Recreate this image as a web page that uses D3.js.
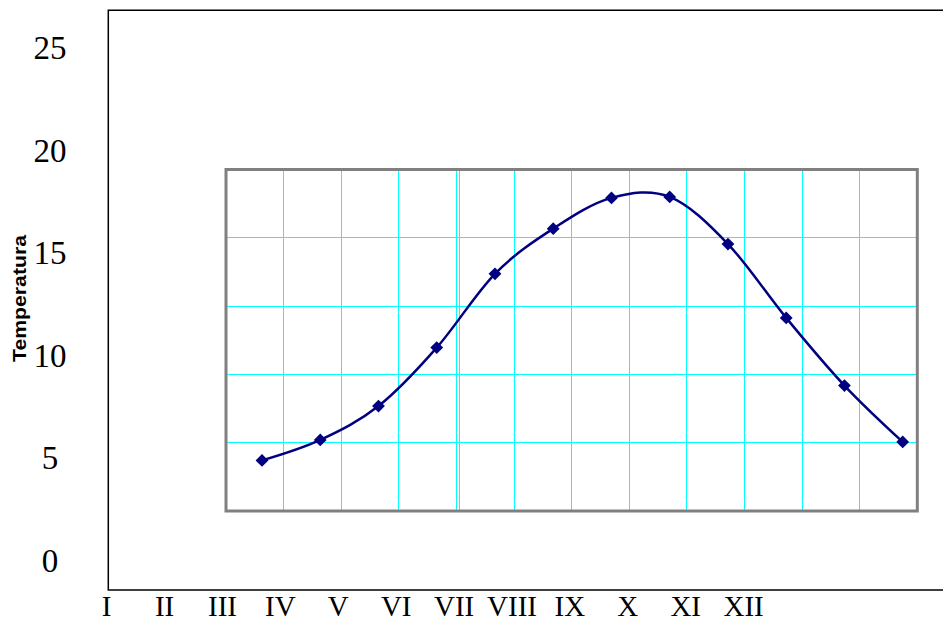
<!DOCTYPE html>
<html>
<head>
<meta charset="utf-8">
<script src="https://cdn.jsdelivr.net/npm/d3@7"></script>
<style>
  html, body { margin: 0; padding: 0; background: #fff; }
  svg { display: block; }
</style>
</head>
<body>
<svg id="chart" width="943" height="622"></svg>
<script>
// ---- data ----
const months = ["I", "II", "III", "IV", "V", "VI", "VII", "VIII", "IX", "X", "XI", "XII"];
const temps = [4.9, 5.9, 7.55, 10.4, 14.0, 16.2, 17.7, 17.75, 15.45, 11.85, 8.55, 5.8];
const yTickValues = [0, 5, 10, 15, 20, 25];
const gridRows = [0, 1, 2, 3, 4, 5];
const yTitle = "Temperatura";

// ---- scales ----
const W = 943, H = 622;
const svg = d3.select("#chart");
const crisp = v => Math.round(v - 0.5) + 0.5;

// outer axes (labels)
const xLabel = d3.scalePoint().domain(months).range([106.7, 743.6]);
const yAxis = d3.scaleLinear().domain([0, 25]).range([560.9, 48.2]);

// inner plot (grid box + series)
const xGrid = d3.scaleBand().domain(months).range([226, 917.3]);
const yGrid = d3.scaleLinear().domain([0, 5]).range([511, 169.5]);
const xData = d3.scalePoint().domain(months).range([262, 902.7]);

// ---- outer frame ----
const fx0 = 108.3, fy0 = 10.3, fy1 = 590;
svg.append("path")
  .attr("d", `M${W + 5},${fy0}H${fx0}V${fy1}H${W + 5}`)
  .attr("fill", "none").attr("stroke", "#000").attr("stroke-width", 1.5);

// ---- y tick labels ----
svg.append("g").selectAll("text").data(yTickValues).join("text")
  .attr("x", 50)
  .attr("y", d => yAxis(d) + 10.9)
  .attr("text-anchor", "middle")
  .attr("font-family", "'Liberation Serif', 'Times New Roman', serif")
  .attr("font-size", 33)
  .attr("fill", "#000")
  .text(d => d);

// ---- x tick labels ----
svg.append("g").selectAll("text").data(months).join("text")
  .attr("x", d => xLabel(d))
  .attr("y", 615.5)
  .attr("text-anchor", "middle")
  .attr("font-family", "'Liberation Serif', 'Times New Roman', serif")
  .attr("font-size", 29)
  .attr("fill", "#000")
  .text(d => d);

// ---- y title ----
svg.append("text")
  .attr("transform", "translate(26.2,298.5) rotate(-90)")
  .attr("text-anchor", "middle")
  .attr("font-family", "'Liberation Sans', Arial, sans-serif")
  .attr("font-weight", "bold")
  .attr("font-size", 18)
  .attr("textLength", 127)
  .attr("lengthAdjust", "spacingAndGlyphs")
  .attr("fill", "#000")
  .text(yTitle);

// ---- inner grid ----
const [gx0, gx1] = xGrid.range();
const gyTop = yGrid(5), gyBot = yGrid(0);
const grid = svg.append("g").attr("stroke", "#00FFFF").attr("stroke-width", 1)
  .attr("shape-rendering", "crispEdges");
grid.selectAll("line.v").data(months.slice(1)).join("line")
  .attr("class", "v")
  .attr("x1", d => crisp(xGrid(d))).attr("x2", d => crisp(xGrid(d)))
  .attr("y1", gyTop).attr("y2", gyBot);
// doubled line artefact next to the 5th boundary
grid.append("line")
  .attr("x1", crisp(xGrid(months[4]) + 3)).attr("x2", crisp(xGrid(months[4]) + 3))
  .attr("y1", gyTop).attr("y2", gyBot);
grid.selectAll("line.h").data(gridRows.slice(1, -1)).join("line")
  .attr("class", "h")
  .attr("x1", gx0).attr("x2", gx1)
  .attr("y1", d => crisp(yGrid(d))).attr("y2", d => crisp(yGrid(d)));

svg.append("rect")
  .attr("x", gx0).attr("y", gyTop)
  .attr("width", gx1 - gx0).attr("height", gyBot - gyTop)
  .attr("fill", "none").attr("stroke", "#808080").attr("stroke-width", 3);

// ---- series ----
const pts = months.map((m, i) => [xData(m), yAxis(temps[i])]);
svg.append("path")
  .attr("d", d3.line().curve(d3.curveCardinal.tension(0))(pts))
  .attr("fill", "none").attr("stroke", "#000080").attr("stroke-width", 2.5);

svg.append("g").selectAll("path").data(pts).join("path")
  .attr("transform", d => `translate(${d[0]},${d[1]}) rotate(45)`)
  .attr("d", d3.symbol(d3.symbolSquare, 82))
  .attr("fill", "#000080");
</script>
</body>
</html>
